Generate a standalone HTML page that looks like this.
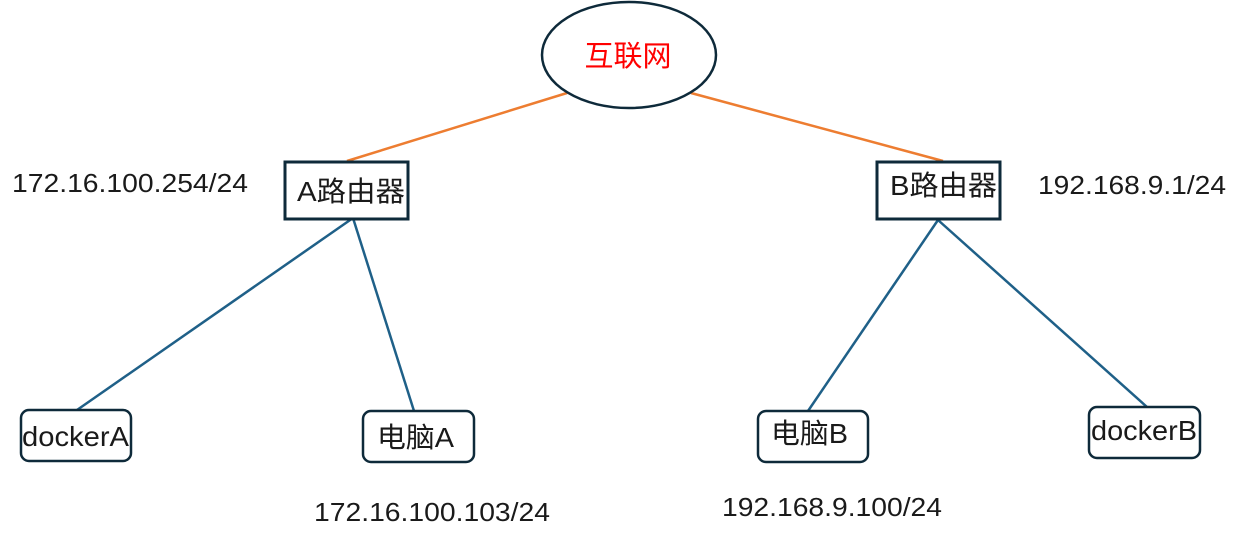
<!DOCTYPE html>
<html><head><meta charset="utf-8"><style>
html,body{margin:0;padding:0;background:#fff;width:1242px;height:537px;overflow:hidden}
text{font-family:"Liberation Sans","Noto Sans CJK SC",sans-serif;fill:#1a1a1a}
</style></head><body>
<svg width="1242" height="537" xmlns="http://www.w3.org/2000/svg">
<g stroke="#ed7d31" stroke-width="2.5">
<line x1="567" y1="93" x2="347" y2="161"/>
<line x1="691" y1="93" x2="943" y2="161"/>
</g>
<g stroke="#1f6088" stroke-width="2.5">
<line x1="353" y1="218" x2="77" y2="410"/>
<line x1="353" y1="218" x2="414" y2="411"/>
<line x1="938" y1="220" x2="808" y2="411"/>
<line x1="938" y1="220" x2="1147" y2="407"/>
</g>
<ellipse cx="629" cy="55" rx="87" ry="53" fill="#fff" stroke="#0e2a3a" stroke-width="2.5"/>
<text x="628" y="66" font-size="29" text-anchor="middle" style="fill:#ff0000">互联网</text>
<rect x="285" y="162" width="123" height="57" fill="#fff" stroke="#0e2a3a" stroke-width="3"/>
<text x="297" y="201" font-size="28" textLength="108" lengthAdjust="spacingAndGlyphs">A路由器</text>
<rect x="877" y="162" width="123" height="57" fill="#fff" stroke="#0e2a3a" stroke-width="3"/>
<text x="890" y="195" font-size="28" textLength="107" lengthAdjust="spacingAndGlyphs">B路由器</text>
<g fill="#fff" stroke="#0e2a3a" stroke-width="2.5">
<rect x="21" y="410" width="110" height="51" rx="8"/>
<rect x="363" y="411" width="111" height="51" rx="8"/>
<rect x="758" y="411" width="110" height="51" rx="8"/>
<rect x="1089" y="407" width="111" height="51" rx="8"/>
</g>
<text x="22" y="446" font-size="28" textLength="107" lengthAdjust="spacingAndGlyphs">dockerA</text>
<text x="377" y="447" font-size="28" textLength="77" lengthAdjust="spacingAndGlyphs">电脑A</text>
<text x="771" y="443" font-size="28" textLength="77" lengthAdjust="spacingAndGlyphs">电脑B</text>
<text x="1091" y="440" font-size="28" textLength="106" lengthAdjust="spacingAndGlyphs">dockerB</text>
<text x="12" y="192" font-size="26" textLength="236" lengthAdjust="spacingAndGlyphs">172.16.100.254/24</text>
<text x="1038" y="194" font-size="26" textLength="188" lengthAdjust="spacingAndGlyphs">192.168.9.1/24</text>
<text x="314" y="521" font-size="26" textLength="236" lengthAdjust="spacingAndGlyphs">172.16.100.103/24</text>
<text x="722" y="516" font-size="26" textLength="220" lengthAdjust="spacingAndGlyphs">192.168.9.100/24</text>
</svg>
</body></html>
